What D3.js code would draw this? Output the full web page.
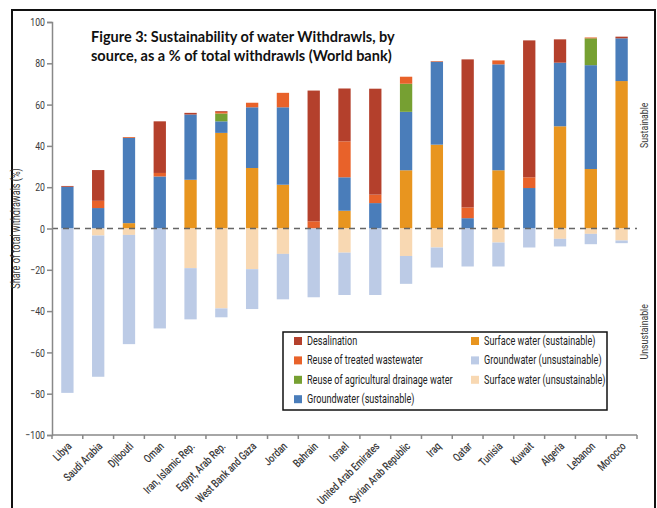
<!DOCTYPE html>
<html>
<head>
<script src="https://d3js.org/d3.v7.min.js"></script>
<style>
  body { margin: 0; background: #fff; }
  .cond { font-family: Roboto, 'Noto Sans', sans-serif; }
</style>
</head>
<body>
<div id="chart"></div>
<script>
// values (percent of total withdrawals)
const countries = ["Libya", "Saudi Arabia", "Djibouti", "Oman", "Iran, Islamic Rep.", "Egypt, Arab Rep.",
  "West Bank and Gaza", "Jordan", "Bahrain", "Israel", "United Arab Emirates", "Syrian Arab Republic",
  "Iraq", "Qatar", "Tunisia", "Kuwait", "Algeria", "Lebanon", "Morocco"];
const surfaceSust  = [0, 0, 2.6, 0, 23.6, 46.3, 29.3, 21.2, 0, 8.6, 0, 28.2, 40.6, 0, 28.2, 0, 49.5, 28.8, 71.4];
const groundSust   = [20.2, 9.9, 41.3, 25.2, 31.6, 5.6, 29.4, 37.5, 0, 16.2, 12.3, 28.3, 40.2, 5, 51.3, 19.6, 30.8, 50.3, 20.7];
const agriReuse    = [0, 0, 0, 0, 0, 3.8, 0, 0, 0, 0, 0, 13.6, 0, 0, 0, 0, 0, 13, 0];
const treatedReuse = [0, 3.5, 0.4, 1.7, 0, 0.7, 2.2, 7, 3.5, 17.4, 4.1, 3.4, 0.3, 5.2, 1.9, 5.2, 0, 0.4, 0];
const desalination = [0.4, 14.9, 0, 25, 0.8, 0.4, 0, 0, 63.3, 25.6, 51.3, 0, 0, 71.7, 0, 66.3, 11.3, 0, 0.8];
const surfaceUnsust = [0, -3.4, -3.1, 0, -19.2, -38.7, -19.7, -12.3, 0, -11.7, 0, -13.3, -9.2, 0, -6.8, 0, -5, -2.6, -5.8];
const groundUnsust  = [-79.6, -68.4, -52.9, -48.4, -24.8, -4.3, -19.3, -22, -33.3, -20.5, -32.2, -13.5, -9.7, -18.4, -11.6, -9.2, -3.7, -5, -1.3];
const yTicks = [100, 80, 60, 40, 20, 0, -20, -40, -60, -80, -100];

const series = [
  { key: "surfS", label: "Surface water (sustainable)", color: "#e8951f", values: surfaceSust },
  { key: "groundS", label: "Groundwater (sustainable)", color: "#4a7dba", values: groundSust },
  { key: "agri", label: "Reuse of agricultural drainage water", color: "#76a032", values: agriReuse },
  { key: "treated", label: "Reuse of treated wastewater", color: "#e8622a", values: treatedReuse },
  { key: "desal", label: "Desalination", color: "#b4402c", values: desalination },
  { key: "surfU", label: "Surface water (unsustainable)", color: "#f8d8b2", values: surfaceUnsust },
  { key: "groundU", label: "Groundwater (unsustainable)", color: "#bccbe6", values: groundUnsust }
];
const legendOrder = ["desal", "treated", "agri", "groundS", "surfS", "groundU", "surfU"];

const width = 657, height = 508;
const margin = { top: 22, right: 20, bottom: 73, left: 52 };
const narrow = "scale(0.76,1)"; // fake a condensed face

const svg = d3.select("#chart").append("svg")
  .attr("width", width).attr("height", height);

// outer frame
svg.append("rect")
  .attr("x", 12).attr("y", 10).attr("width", 643).attr("height", 520)
  .attr("fill", "none").attr("stroke", "#111").attr("stroke-width", 2);

const x = d3.scaleBand().domain(countries)
  .range([margin.left, width - margin.right]).paddingInner(0.6).paddingOuter(0.3);
const y = d3.scaleLinear().domain([-100, 100]).range([height - margin.bottom, margin.top]);

const rows = countries.map((c, i) => {
  const r = { country: c };
  series.forEach(s => r[s.key] = s.values[i]);
  return r;
});
const stacked = d3.stack().keys(series.map(s => s.key)).offset(d3.stackOffsetDiverging)(rows);
const colorOf = Object.fromEntries(series.map(s => [s.key, s.color]));

svg.append("g").selectAll("g")
  .data(stacked)
  .join("g")
  .attr("fill", d => colorOf[d.key])
  .selectAll("rect")
  .data(d => d)
  .join("rect")
  .attr("x", d => x(d.data.country))
  .attr("width", x.bandwidth())
  .attr("y", d => y(d[1]))
  .attr("height", d => Math.max(0, y(d[0]) - y(d[1])));

// zero line
svg.append("line")
  .attr("x1", margin.left).attr("x2", width - margin.right)
  .attr("y1", y(0)).attr("y2", y(0))
  .attr("stroke", "#666").attr("stroke-width", 1.5).attr("stroke-dasharray", "6,5");

// y axis
const yAxis = svg.append("g")
  .attr("transform", `translate(${margin.left},0)`)
  .call(d3.axisLeft(y).tickValues(yTicks).tickSize(5).tickFormat(d => d < 0 ? "\u2212" + Math.abs(d) : d));
yAxis.select(".domain").attr("stroke", "#888").attr("stroke-width", 1.5);
yAxis.selectAll(".tick line").attr("stroke", "#888").attr("stroke-width", 1.5);
yAxis.selectAll(".tick text")
  .attr("class", "cond").attr("font-size", 11.5).attr("fill", "#3a3a3a")
  .attr("x", null)
  .attr("transform", "translate(-7,0) " + narrow);

// x axis at bottom (-100), ticks at band boundaries
const xAxisG = svg.append("g");
xAxisG.append("line")
  .attr("x1", margin.left).attr("x2", width - margin.right)
  .attr("y1", y(-100)).attr("y2", y(-100))
  .attr("stroke", "#888").attr("stroke-width", 1.5);
const bounds = d3.range(countries.length + 1).map(i => margin.left + i * (width - margin.right - margin.left) / countries.length);
xAxisG.selectAll(".xt").data(bounds).join("line")
  .attr("x1", d => d).attr("x2", d => d)
  .attr("y1", y(-100)).attr("y2", y(-100) + 4)
  .attr("stroke", "#888").attr("stroke-width", 1.5);
xAxisG.selectAll("text").data(countries).join("text")
  .attr("class", "cond")
  .attr("font-size", 11.5).attr("font-weight", 500).attr("fill", "#3a3a3a")
  .attr("text-anchor", "end")
  .attr("transform", d => `translate(${x(d) + x.bandwidth() / 2 + 5},${y(-100) + 12}) rotate(-45) ${narrow}`)
  .text(d => d);

// axis titles
svg.append("text").attr("class", "cond")
  .attr("transform", `translate(20,${y(0)}) rotate(-90) ${narrow}`)
  .attr("text-anchor", "middle").attr("font-size", 12).attr("fill", "#3a3a3a")
  .text("Share of total withdrawals (%)");
svg.append("text").attr("class", "cond")
  .attr("transform", `translate(648,${y(50)}) rotate(-90) ${narrow}`)
  .attr("text-anchor", "middle").attr("font-size", 11.5).attr("fill", "#3a3a3a")
  .text("Sustainable");
svg.append("text").attr("class", "cond")
  .attr("transform", `translate(648,${y(-50)}) rotate(-90) ${narrow}`)
  .attr("text-anchor", "middle").attr("font-size", 11.5).attr("fill", "#3a3a3a")
  .text("Unsustainable");

// title
const title = svg.append("text")
  .attr("font-family", "Lato, 'Open Sans', sans-serif")
  .attr("font-weight", "bold").attr("font-size", 14.5).attr("fill", "#111");
title.append("tspan").attr("x", 91).attr("y", 42).text("Figure 3: Sustainability of water Withdrawls, by");
title.append("tspan").attr("x", 91).attr("y", 61).text("source, as a % of total withdrawls (World bank)");

// legend
const lg = svg.append("g");
lg.append("rect")
  .attr("x", 283).attr("y", 332).attr("width", 324).attr("height", 78)
  .attr("fill", "#fff").attr("stroke", "#111").attr("stroke-width", 1.5);
legendOrder.forEach((k, i) => {
  const s = series.find(d => d.key === k);
  const col = i < 4 ? 0 : 1;
  const row = i < 4 ? i : i - 4;
  const gx = col === 0 ? 294 : 471;
  const gy = 341 + row * 19.4;
  lg.append("rect").attr("x", gx).attr("y", gy - 4).attr("width", 8).attr("height", 8).attr("fill", s.color);
  lg.append("text").attr("class", "cond")
    .attr("transform", `translate(${gx + 13},${gy + 4}) ${narrow}`)
    .attr("font-size", 12).attr("fill", "#222")
    .text(s.label);
});
</script>
</body>
</html>
